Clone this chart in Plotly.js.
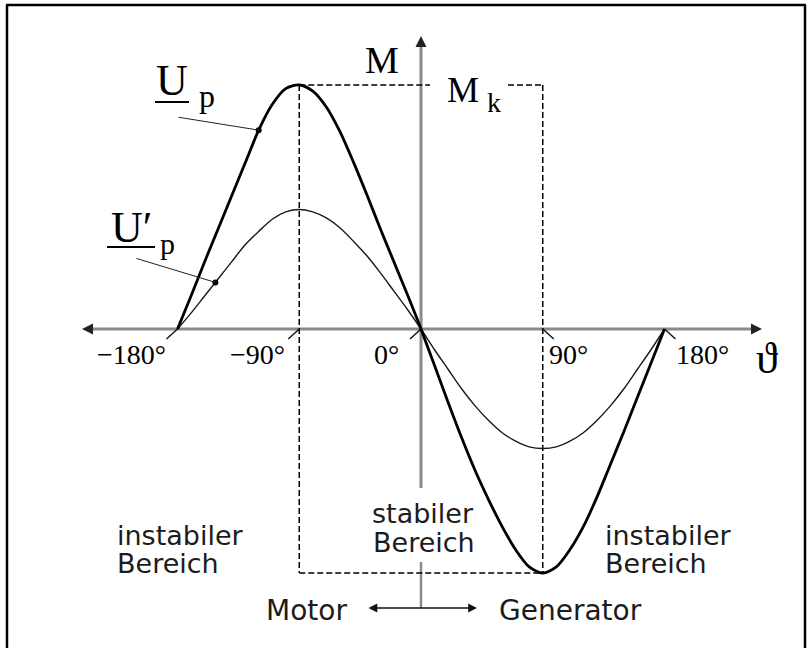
<!DOCTYPE html>
<html><head><meta charset="utf-8">
<script src="https://cdn.plot.ly/plotly-3.0.1.min.js"></script>
<style>html,body{margin:0;padding:0;background:#fff;}#chart{width:812px;height:648px;}</style>
</head><body><div id="chart"></div>
<script>
// ---- data ----
const theta = [-180,-170,-160,-150,-140,-130,-120,-110,-100,-90,-80,-70,-60,-50,-40,-30,-20,-10,0,10,20,30,40,50,60,70,80,90,100,110,120,130,140,150,160,170,180];
const upValues = [0,0.135,0.275,0.41,0.545,0.68,0.815,0.92,0.985,1.0,0.975,0.91,0.81,0.685,0.55,0.41,0.275,0.14,0,-0.15,-0.30,-0.445,-0.58,-0.70,-0.81,-0.905,-0.975,-1.0,-0.975,-0.905,-0.81,-0.69,-0.555,-0.42,-0.28,-0.14,0];
const upPrimeValues = [0,0.065,0.135,0.205,0.275,0.345,0.40,0.45,0.48,0.49,0.48,0.455,0.415,0.36,0.30,0.23,0.155,0.08,0,-0.085,-0.165,-0.245,-0.315,-0.375,-0.425,-0.46,-0.483,-0.49,-0.483,-0.46,-0.425,-0.375,-0.315,-0.245,-0.165,-0.085,0];
const tickValues = [-180,-90,0,90,180];
const tickLabels = ['\u2212180\u00b0','\u221290\u00b0','0\u00b0','90\u00b0','180\u00b0'];
const dotTheta = [-120,-152];
const dotValues = [0.815,0.191];
const kippAngles = [-90,90];
const kippMoment = 1.0;

// ---- layout geometry (pixels) ----
const W = 812, H = 648;
const X0 = 421, degPx = 243.5/180;
const Y0 = 329, unitPx = 244;
const dx = px => (px - X0)/degPx;
const dy = py => (Y0 - py)/unitPx;
const pxX = px => px/W;
const pxY = py => 1 - py/H;

const serif = 'Liberation Serif, DejaVu Serif, serif';
const sans = 'DejaVu Sans, sans-serif';

const traces = [
  {x: theta, y: upPrimeValues, mode:'lines', line:{color:'#1a1a1a', width:1.4, shape:'spline', smoothing:0.8}, hoverinfo:'skip'},
  {x: theta, y: upValues, mode:'lines', line:{color:'#000', width:2.8, shape:'spline', smoothing:0.8}, hoverinfo:'skip'},
  {x: dotTheta, y: dotValues, mode:'markers', marker:{color:'#000', size:6}, hoverinfo:'skip'}
];

const shapes = [];
const line = (o) => shapes.push(Object.assign({type:'line', layer:'below'}, o));
// frame
line({xref:'paper', yref:'paper', x0:pxX(7), x1:pxX(7), y0:0, y1:pxY(5), line:{color:'#000', width:2.5}});
line({xref:'paper', yref:'paper', x0:pxX(6), x1:pxX(806), y0:pxY(5), y1:pxY(5), line:{color:'#000', width:2.5}});
line({xref:'paper', yref:'paper', x0:pxX(805), x1:pxX(805), y0:0, y1:pxY(5), line:{color:'#000', width:2.5}});
// axes
const axisGray = '#8a8a8a';
line({xref:'x', yref:'y', x0:dx(86), x1:dx(756), y0:0, y1:0, line:{color:axisGray, width:3}});
line({xref:'x', yref:'y', x0:0, x1:0, y0:dy(488), y1:dy(44), line:{color:axisGray, width:3}});
line({xref:'x', yref:'y', x0:0, x1:0, y0:dy(562), y1:dy(608), line:{color:axisGray, width:2.5}});
// slanted tick marks
tickValues.forEach(t => {
  const s = t > 0 ? 1 : -1;
  line({xref:'x', yref:'y', x0:t, y0:0, x1:t + s*11/degPx, y1:-10/unitPx, line:{color:'#111', width:1.4}, layer:'above'});
});
// dashed Mk box
const dash = {color:'#000', width:1.5, dash:'6px,3px'};
const [ka, kb] = kippAngles;
line({xref:'x', yref:'y', x0:ka, x1:dx(430), y0:kippMoment, y1:kippMoment, line:dash});
line({xref:'x', yref:'y', x0:dx(508), x1:kb, y0:kippMoment, y1:kippMoment, line:dash});
line({xref:'x', yref:'y', x0:ka, x1:ka, y0:kippMoment, y1:-kippMoment, line:dash});
line({xref:'x', yref:'y', x0:kb, x1:kb, y0:kippMoment, y1:-kippMoment, line:dash});
line({xref:'x', yref:'y', x0:ka, x1:kb, y0:-kippMoment, y1:-kippMoment, line:dash});
// underlines of the phasor symbols
line({xref:'paper', yref:'paper', x0:pxX(155), x1:pxX(189), y0:pxY(102), y1:pxY(102), line:{color:'#000', width:2}});
line({xref:'paper', yref:'paper', x0:pxX(107), x1:pxX(155), y0:pxY(247), y1:pxY(247), line:{color:'#000', width:2}});

const ann = [];
// arrowheads
const head = (o) => ann.push(Object.assign({text:'', showarrow:true, arrowhead:2, arrowsize:1.1, arrowwidth:2, arrowcolor:'#222', xref:'x', yref:'y'}, o));
head({x:dx(762), y:0, ax:-12, ay:0});
head({x:dx(82), y:0, ax:12, ay:0});
head({x:0, y:dy(36), ax:0, ay:12});
// Motor / Generator double arrow
ann.push({xref:'x', yref:'y', axref:'x', ayref:'y', x:dx(477), y:dy(608), ax:dx(367), ay:dy(608), text:'', showarrow:true,
  arrowside:'end+start', arrowhead:2, startarrowhead:2, arrowsize:1.1, startarrowsize:1.1, arrowwidth:1.6, arrowcolor:'#111'});
// leader lines
ann.push({xref:'x', yref:'y', axref:'x', ayref:'y', x:dotTheta[0], y:dotValues[0], ax:dx(177), ay:dy(117), text:'', showarrow:true, arrowhead:0, arrowwidth:1, arrowcolor:'#222'});
ann.push({xref:'x', yref:'y', axref:'x', ayref:'y', x:dotTheta[1], y:dotValues[1], ax:dx(135), ay:dy(258), text:'', showarrow:true, arrowhead:0, arrowwidth:1, arrowcolor:'#222'});

// text labels: px position + baseline
const txt = (text, px, base, fs, family, anchor, color) => ann.push({
  xref:'paper', yref:'paper', x:pxX(px), y:pxY(base - 0.34*fs), text:text, showarrow:false,
  xanchor:anchor || 'center', yanchor:'middle', font:{family:family, size:fs, color:color || '#000'}
});
txt('M', 382, 73, 38, serif);
txt('M', 462.5, 102, 36, serif);
txt('k', 493.5, 112, 28, serif);
txt('U', 171.5, 95, 44, serif);
txt('p', 207, 107, 32, serif);
txt('U\u2032', 131, 242, 44, serif);
txt('p', 167.5, 253.5, 30, serif);
txt('\u03d1', 767, 373, 44, serif);
const labelShift = [-10,-12,-20,4,9];
tickValues.forEach((t,i) => {
  ann.push({xref:'x', yref:'paper', x:t, xshift:labelShift[i], y:pxY(364 - 0.34*28), text:tickLabels[i], showarrow:false,
    xanchor: t > 0 ? 'left' : 'right', yanchor:'middle', font:{family:serif, size:28, color:'#000'}});
});
const g = '#1c1c1c';
txt('instabiler', 115, 545, 27, sans, 'left', g);
txt('Bereich', 115, 573, 27, sans, 'left', g);
txt('stabiler', 370, 523, 27, sans, 'left', g);
txt('Bereich', 371, 552, 27, sans, 'left', g);
txt('instabiler', 603, 545, 27, sans, 'left', g);
txt('Bereich', 603, 573, 27, sans, 'left', g);
txt('Motor', 306, 620, 28, sans, 'center', g);
txt('Generator', 570, 620, 28, sans, 'center', g);

const layout = {
  width:W, height:H, margin:{l:0,r:0,t:0,b:0}, autosize:false, showlegend:false,
  paper_bgcolor:'#fff', plot_bgcolor:'#fff',
  xaxis:{range:[dx(0), dx(W)], visible:false, fixedrange:true},
  yaxis:{range:[dy(H), dy(0)], visible:false, fixedrange:true},
  shapes:shapes, annotations:ann
};
Plotly.newPlot('chart', traces, layout, {staticPlot:true, displayModeBar:false});
</script></body></html>
